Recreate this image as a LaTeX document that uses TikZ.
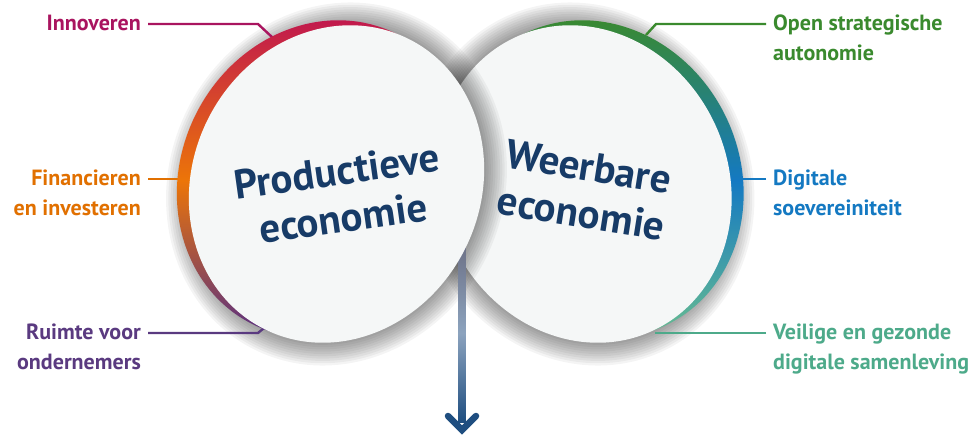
\documentclass[tikz,border=0pt]{standalone}
\usepackage{fontspec}
\setmainfont{PT Sans}
\usetikzlibrary{calc}
\definecolor{cInn}{HTML}{A9145F}
\definecolor{cFin}{HTML}{E17000}
\definecolor{cRui}{HTML}{5A3A80}
\definecolor{cOpen}{HTML}{3A8A2E}
\definecolor{cDig}{HTML}{1479C2}
\definecolor{cVei}{HTML}{4DAA8A}
\definecolor{cNavy}{HTML}{173B67}
\definecolor{cFace}{HTML}{F5F7F7}
\definecolor{rimTopL}{HTML}{C0174F}
\definecolor{rimMidL}{HTML}{EC7508}
\definecolor{rimBotL}{HTML}{4F2B8A}
\definecolor{rimTopR}{HTML}{3A8A2E}
\definecolor{rimMidR}{HTML}{1479C2}
\definecolor{rimBotR}{HTML}{6CC08E}
\definecolor{arrTop}{HTML}{6D7186}
\definecolor{arrMid}{HTML}{8CA3BE}
\definecolor{arrBot}{HTML}{1F4E80}
\begin{document}
\begin{tikzpicture}[x=1pt,y=1pt,
  lbl/.style={font=\fontsize{22}{29.5}\selectfont\bfseries, inner sep=0pt},
  big/.style={font=\fontsize{41}{47}\selectfont\bfseries, text=cNavy, inner sep=0pt, align=center},
  conn/.style={line width=2.4pt},
  face/.style={fill=cFace},
  shadowlayer/.style={fill=black, opacity=0.042},
]
\fill[white] (0,0) rectangle (976,434);
\useasboundingbox (0,0) rectangle (976,434);

\coordinate (lc) at (336.5,250);
\coordinate (rc) at (584,250);
\coordinate (lcb) at (324.5,255);
\coordinate (rcb) at (596,255);

% labels
\node[lbl, text=cInn, anchor=north east, align=right] (inn) at (141,420.5) {\rule{0pt}{17pt}Innoveren};
\node[lbl, text=cFin, anchor=north east, align=right] (fin) at (141,265.5) {\rule{0pt}{17pt}Financieren\\en investeren};
\node[lbl, text=cRui, anchor=north east, align=right] (rui) at (141,111.5) {\rule{0pt}{17pt}Ruimte voor\\ondernemers};
\node[lbl, text=cOpen, anchor=north west, align=left] (open) at (773,420.5) {\rule{0pt}{17pt}Open strategische\\autonomie};
\node[lbl, text=cDig, anchor=north west, align=left] (dig) at (773,265.5) {\rule{0pt}{17pt}Digitale\\soevereiniteit};
\node[lbl, text=cVei, anchor=north west, align=left] (vei) at (773,111.5) {\rule{0pt}{17pt}Veilige en gezonde\\digitale samenleving};

\coordinate (innR) at (273,396);
\coordinate (finR) at (182,255);
\coordinate (ruiR) at (264,106);
\coordinate (openR) at (646,399);
\coordinate (digR) at (742,255);
\coordinate (veiR) at (655,101);
\coordinate (junc) at (462,186);
\coordinate (arrtip) at (462,4);

% right disc shadow
\foreach \i in {1,...,16} {
  \fill[shadowlayer, shift={(0,-24)}, rotate around={26:(rc)}] (rc) ellipse [x radius={130+2.3*\i}, y radius={148+2.3*\i}];
}
% right connectors
\draw[conn, cOpen] ($(open.north west)+(-7,-10.5)$) -- (656,410) -- (openR);
\draw[conn, cDig] ($(dig.north west)+(-7,-10.5)$) -- (digR);
\draw[conn, cVei] ($(vei.north west)+(-7,-10.5)$) -- (veiR);
% right rim and face
\begin{scope}
  \clip[rotate around={26:(rcb)}] (rcb) ellipse [x radius=144, y radius=162];
  \shade[top color=rimTopR, bottom color=rimBotR, middle color=rimMidR] (420,89) rectangle (770,418);
\end{scope}
\fill[face, rotate around={26:(rc)}] (rc) ellipse [x radius=144, y radius=162];

% left disc shadow
\foreach \i in {1,...,16} {
  \fill[shadowlayer, shift={(0,-24)}, rotate around={-26:(lc)}] (lc) ellipse [x radius={130+2.3*\i}, y radius={148+2.3*\i}];
}
% left connectors
\draw[conn, cInn] ($(inn.north east)+(7,-10.5)$) -- (258,410) -- (innR);
\draw[conn, cFin] ($(fin.north east)+(7,-10.5)$) -- (finR);
\draw[conn, cRui] ($(rui.north east)+(7,-10.5)$) -- (258,101) -- (ruiR);

% arrow
\shade[top color=arrTop, bottom color=arrBot, middle color=arrMid] (458.5,12) rectangle (465.5,190);
\draw[line width=6.5pt, arrBot, line cap=round, line join=miter] (448,18) -- (arrtip) -- (476,18);

% left rim and face
\begin{scope}
  \clip[rotate around={-26:(lcb)}] (lcb) ellipse [x radius=144, y radius=162];
  \shade[top color=rimTopL, bottom color=rimBotL, middle color=rimMidL] (170,89) rectangle (500,418);
\end{scope}
\fill[face, rotate around={-26:(lc)}] (lc) ellipse [x radius=144, y radius=162];

% disc texts
\node[big, rotate=8] (prod) at (340,239.5) {Productieve\\economie};
\node[big, rotate=-9] (weer) at (585,244) {Weerbare\\economie};
\end{tikzpicture}
\end{document}
